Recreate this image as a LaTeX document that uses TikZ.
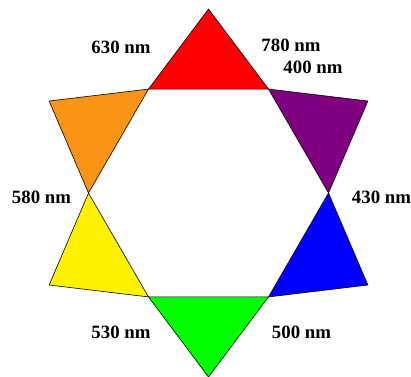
\documentclass[tikz,border=0pt]{standalone}
\usepackage{fontspec}
\setmainfont{Liberation Serif}
\usetikzlibrary{calc}
\definecolor{orng}{RGB}{250,148,22}
\definecolor{purp}{RGB}{128,0,128}

\begin{document}
\begin{tikzpicture}[x=1pt,y=1pt,
    tri/.style={draw=black, line width=0.6pt, line join=miter},
    lbl/.style={font=\fontsize{18.8}{21}\selectfont\bfseries, inner sep=0pt}]
        \useasboundingbox (0,0) rectangle (411,-376);
        \coordinate (O) at (208.5,-193); % centre of the hexagon

        % hexagon corners, radius 120
        \coordinate (H0) at ($(O)+(0:120)$);
        \coordinate (H1) at ($(O)+(60:120)$);
        \coordinate (H2) at ($(O)+(120:120)$);
        \coordinate (H3) at ($(O)+(180:120)$);
        \coordinate (H4) at ($(O)+(240:120)$);
        \coordinate (H5) at ($(O)+(300:120)$);

        % tips of the triangles (apothem + 80)
        \coordinate (Tr) at ($(O)+(90:184)$);
        \coordinate (To) at ($(O)+(150:184)$);
        \coordinate (Ty) at ($(O)+(210:184)$);
        \coordinate (Tg) at ($(O)+(270:184)$);
        \coordinate (Tb) at ($(O)+(330:184)$);
        \coordinate (Tp) at ($(O)+(30:184)$);

        \filldraw[tri, fill=red] (H1) -- (Tr) -- (H2) -- cycle;
        \filldraw[tri, fill=orng] (H2) -- (To) -- (H3) -- cycle;
        \filldraw[tri, fill=yellow] (H3) -- (Ty) -- (H4) -- cycle;
        \filldraw[tri, fill=green] (H4) -- (Tg) -- (H5) -- cycle;
        \filldraw[tri, fill=blue] (H5) -- (Tb) -- (H0) -- cycle;
        \filldraw[tri, fill=purp] (H0) -- (Tp) -- (H1) -- cycle;

        % wavelengths
        \node[lbl] (l630) at (121,-47) {630 nm};
        \node[lbl] (l780) at (291,-45.5) {780 nm};
        \node[lbl] (l400) at (313,-67.5) {400 nm};
        \node[lbl] (l580) at (41.5,-197) {580 nm};
        \node[lbl] (l430) at (381.5,-197) {430 nm};
        \node[lbl] (l530) at (121,-332) {530 nm};
        \node[lbl] (l500) at (301.5,-332) {500 nm};

    \end{tikzpicture}
\end{document}
